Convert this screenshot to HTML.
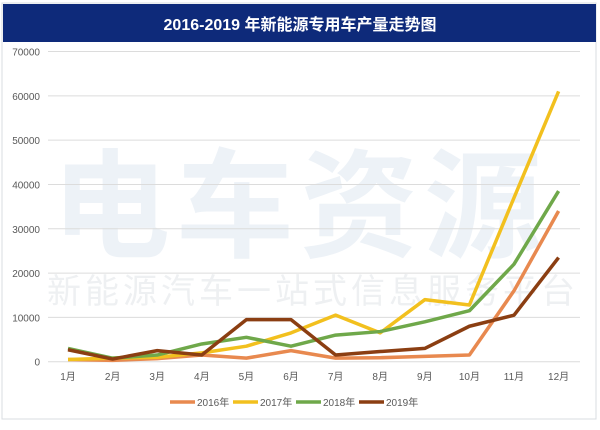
<!DOCTYPE html>
<html><head><meta charset="utf-8">
<style>
body{margin:0;background:#fff;}
svg{display:block;}
text{font-family:"Liberation Sans","Noto Sans CJK SC",sans-serif;}
</style></head>
<body>
<svg id="chart" width="600" height="430" viewBox="0 0 600 430">
  <rect x="2" y="3" width="594" height="416" fill="#fff" stroke="#d8dce2"/>
  <rect x="3" y="4" width="593" height="38" fill="#0e2a7a"/>
  <text x="300" y="30" text-anchor="middle" fill="#fff" font-size="16" font-weight="bold">2016-2019 年新能源专用车产量走势图</text>
  <g id="watermark">
    <text x="300" y="248" text-anchor="middle" font-size="118" font-weight="bold" fill="#edf2f7" letter-spacing="6">电车资源</text>
    <text x="313" y="303" text-anchor="middle" font-size="34" fill="#eef0f2" letter-spacing="4">新能源汽车一站式信息服务平台</text>
  </g>
  <g id="grid"></g>
  <g id="lines"></g>
  <g id="legend"></g>
</svg>
<script>
const categories=["1月","2月","3月","4月","5月","6月","7月","8月","9月","10月","11月","12月"];
const yTicks=[0,10000,20000,30000,40000,50000,60000,70000];
const seriesNames=["2016年","2017年","2018年","2019年"];
const s2016=[500,300,700,1500,800,2500,800,900,1200,1500,16000,34000];
const s2017=[500,800,1000,2000,3500,6500,10500,6500,14000,12800,37000,61000];
const s2018=[3000,800,1500,4000,5500,3500,6000,6800,9000,11500,22000,38500];
const s2019=[2700,600,2500,1500,9500,9500,1500,2300,3000,8000,10500,23500];
const colors=["#e8894f","#f2c01e","#6fa84a","#8b3e12"];
const NS="http://www.w3.org/2000/svg";
const yTop=51.5,yBot=361.7,yMax=70000,xL=48,xR=580;
function yScale(v){return yBot-(v/yMax)*(yBot-yTop);}
function xScale(i){return 68+i*44.6;}
function mk(tag,attrs,parent){const e=document.createElementNS(NS,tag);for(const k in attrs)e.setAttribute(k,attrs[k]);parent.appendChild(e);return e;}
const grid=document.getElementById('grid');
yTicks.forEach(t=>{
  const l=mk('line',{x1:xL,x2:xR,y1:yScale(t),y2:yScale(t),stroke:'#dcdcdc','stroke-width':1},grid);
  
  
  const tx=mk('text',{x:40,y:yScale(t)+4,'text-anchor':'end','font-size':10,fill:'#595959'},grid);
  tx.textContent=t;
  
  
});
categories.forEach((c,i)=>{
  const tx=mk('text',{x:xScale(i),y:380,'text-anchor':'middle','font-size':10,fill:'#595959'},grid);
  tx.textContent=c;
  
  
});
const data=[s2016,s2017,s2018,s2019];
const lines=document.getElementById('lines');
data.forEach((s,k)=>{
  const pts=s.map((v,i)=>xScale(i)+','+yScale(v)).join(' ');
  const p=mk('polyline',{points:pts,fill:'none',stroke:colors[k],'stroke-width':3.5,'stroke-linejoin':'round'},lines);
  
  
});
const legend=document.getElementById('legend');
const lx=[170,233,296,359];
seriesNames.forEach((n,k)=>{
  const g=mk('g',{},legend);
  
  
  mk('line',{x1:lx[k],x2:lx[k]+25,y1:402,y2:402,stroke:colors[k],'stroke-width':3.5},g);
  const t=mk('text',{x:lx[k]+27,y:406,'font-size':10,fill:'#595959'},g);
  t.textContent=n;
});
</script>
</body></html>
